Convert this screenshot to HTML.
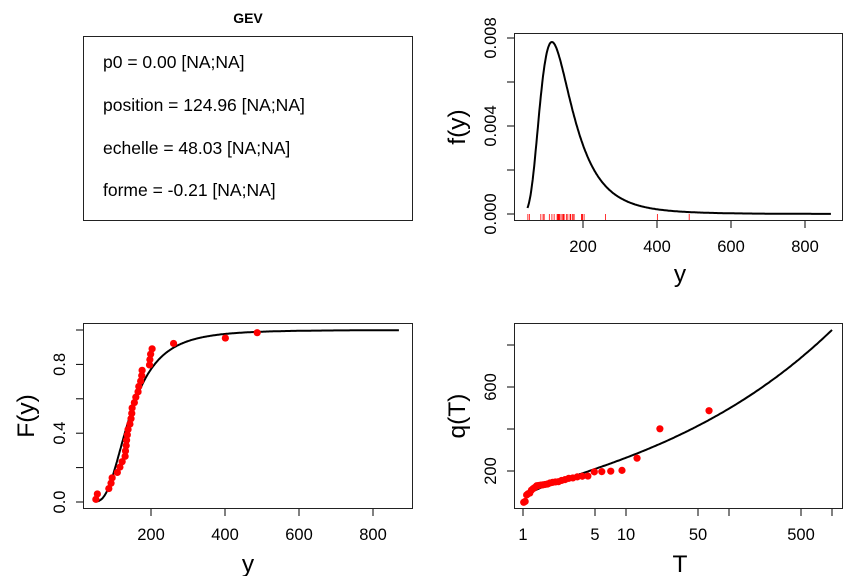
<!DOCTYPE html>
<html><head><meta charset="utf-8"><style>
body{margin:0;background:#fff}
svg{display:block;font-family:"Liberation Sans",sans-serif}
</style></head><body>
<svg id="s" width="864" height="576" xmlns="http://www.w3.org/2000/svg">
<rect width="864" height="576" fill="#fff"/>
<text x="248" y="23" font-size="14" font-weight="bold" text-anchor="middle">GEV</text>
<rect x="83.5" y="36.5" width="329" height="184" fill="none" stroke="#222" stroke-width="1"/>
<g font-size="17.5">
<text x="103" y="68">p0 = 0.00 [NA;NA]</text>
<text x="103" y="111">position = 124.96 [NA;NA]</text>
<text x="103" y="154">echelle = 48.03 [NA;NA]</text>
<text x="103" y="196">forme = -0.21 [NA;NA]</text>
</g>
<rect x="514.5" y="33.5" width="328" height="187" fill="none" stroke="#222"/>
<g stroke="#000">
<line x1="507" y1="214" x2="514" y2="214"/><line x1="507" y1="170" x2="514" y2="170"/>
<line x1="507" y1="126" x2="514" y2="126"/><line x1="507" y1="82" x2="514" y2="82"/>
<line x1="507" y1="38" x2="514" y2="38"/>
<line x1="583" y1="221" x2="583" y2="228"/><line x1="657" y1="221" x2="657" y2="228"/>
<line x1="731" y1="221" x2="731" y2="228"/><line x1="805" y1="221" x2="805" y2="228"/>
</g>
<g font-size="16.5" text-anchor="middle">
<text x="583" y="252">200</text><text x="657" y="252">400</text><text x="731" y="252">600</text><text x="805" y="252">800</text>
<text transform="translate(496,214) rotate(-90)">0.000</text>
<text transform="translate(496,126) rotate(-90)">0.004</text>
<text transform="translate(496,38) rotate(-90)">0.008</text>
</g>
<text x="680" y="282" font-size="24.5" text-anchor="middle">y</text>
<text transform="translate(465,127) rotate(-90)" font-size="24.5" text-anchor="middle">f(y)</text>
<g id="rug" stroke="#f00" stroke-width="0.8"></g>
<path id="dens" fill="none" stroke="#000" stroke-width="2"/>
<rect x="83.5" y="323.5" width="329" height="185" fill="none" stroke="#222"/>
<g stroke="#000">
<line x1="151" y1="509" x2="151" y2="516"/><line x1="225" y1="509" x2="225" y2="516"/>
<line x1="299" y1="509" x2="299" y2="516"/><line x1="373" y1="509" x2="373" y2="516"/>
<line x1="76" y1="502" x2="83" y2="502"/><line x1="76" y1="467.6" x2="83" y2="467.6"/>
<line x1="76" y1="433.2" x2="83" y2="433.2"/><line x1="76" y1="398.8" x2="83" y2="398.8"/>
<line x1="76" y1="364.4" x2="83" y2="364.4"/><line x1="76" y1="330" x2="83" y2="330"/>
</g>
<g font-size="16.5" text-anchor="middle">
<text x="151" y="540">200</text><text x="225" y="540">400</text><text x="299" y="540">600</text><text x="373" y="540">800</text>
<text transform="translate(65,502) rotate(-90)">0.0</text>
<text transform="translate(65,433.2) rotate(-90)">0.4</text>
<text transform="translate(65,364.4) rotate(-90)">0.8</text>
</g>
<text x="248" y="572" font-size="24.5" text-anchor="middle">y</text>
<text transform="translate(34,416) rotate(-90)" font-size="24.5" text-anchor="middle">F(y)</text>
<path id="cdf" fill="none" stroke="#000" stroke-width="2"/>
<g id="pc" fill="#f00"></g>
<rect x="514.5" y="323.5" width="328" height="185" fill="none" stroke="#222"/>
<g stroke="#000">
<line x1="523" y1="509" x2="523" y2="516"/><line x1="595" y1="509" x2="595" y2="516"/>
<line x1="626" y1="509" x2="626" y2="516"/><line x1="698" y1="509" x2="698" y2="516"/>
<line x1="729" y1="509" x2="729" y2="516"/><line x1="801" y1="509" x2="801" y2="516"/>
<line x1="832" y1="509" x2="832" y2="516"/>
<line x1="507" y1="471" x2="514" y2="471"/><line x1="507" y1="429" x2="514" y2="429"/>
<line x1="507" y1="387" x2="514" y2="387"/><line x1="507" y1="345" x2="514" y2="345"/>
</g>
<g font-size="16.5" text-anchor="middle">
<text x="523" y="540">1</text><text x="595" y="540">5</text><text x="626" y="540">10</text>
<text x="698" y="540">50</text><text x="801" y="540">500</text>
<text transform="translate(496,471) rotate(-90)">200</text>
<text transform="translate(496,387) rotate(-90)">600</text>
</g>
<text x="680" y="572" font-size="24.5" text-anchor="middle">T</text>
<text transform="translate(465,416) rotate(-90)" font-size="24.5" text-anchor="middle">q(T)</text>
<path id="qq" fill="none" stroke="#000" stroke-width="2"/>
<g id="pq" fill="#f00"></g>
</svg>
<script>
var mu=124.96,sg=48.03,xi=0.21,NS="http://www.w3.org/2000/svg";
function tt(y){var a=1+xi*(y-mu)/sg;return Math.pow(a,-1/xi);}
function f(y){var t=tt(y);return Math.pow(t,xi+1)*Math.exp(-t)/sg;}
function F(y){return Math.exp(-tt(y));}
function q(T){return mu+sg/xi*(Math.pow(-Math.log(1-1/T),-xi)-1);}
var d="",c="";
for(var y=50;y<=870;y+=2){
 d+=(y==50?"M":"L")+(509+0.37*y).toFixed(1)+","+(214-22000*f(y)).toFixed(1);
 c+=(y==50?"M":"L")+(77+0.37*y).toFixed(1)+","+(502-172*F(y)).toFixed(1);
}
document.getElementById("dens").setAttribute("d",d);
document.getElementById("cdf").setAttribute("d",c);
var qd="";
for(var i=0;i<=200;i++){var lt=Math.log10(1.05)+i*(3-Math.log10(1.05))/200;var T=Math.pow(10,lt);
 qd+=(i?"L":"M")+(523+103*lt).toFixed(1)+","+(513-0.21*q(T)).toFixed(1);}
document.getElementById("qq").setAttribute("d",qd);
var data=[51,55,86,92,95,109,116,122,130,131,133,134,136,138,143,146,148,149,155,159,165,167,172,175,176,196,197,199,203,261,401,487];
var n=data.length,rug=document.getElementById("rug"),pc=document.getElementById("pc"),pq=document.getElementById("pq");
data.forEach(function(v,i){
 var x=509+0.37*v,l=document.createElementNS(NS,"line");
 l.setAttribute("x1",x);l.setAttribute("x2",x);l.setAttribute("y1",214);l.setAttribute("y2",220);rug.appendChild(l);
 var p=(i+0.5)/n;
 var ci=document.createElementNS(NS,"circle");ci.setAttribute("cx",77+0.37*v);ci.setAttribute("cy",502-172*p);ci.setAttribute("r",3.6);pc.appendChild(ci);
 var T=1/(1-p),c2=document.createElementNS(NS,"circle");c2.setAttribute("cx",523+103*Math.log10(T));c2.setAttribute("cy",513-0.21*v);c2.setAttribute("r",3.6);pq.appendChild(c2);
});
</script>
</body></html>
